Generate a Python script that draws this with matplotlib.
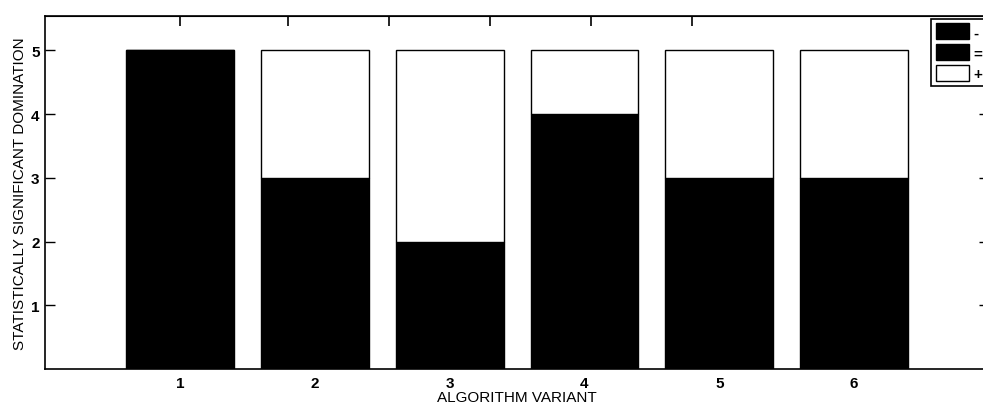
import matplotlib
matplotlib.use("Agg")
import matplotlib.pyplot as plt
import numpy as np

# Pairwise comparison counts for each algorithm variant
variants = [1, 2, 3, 4, 5, 6]
worse = [0, 0, 0, 0, 0, 0]      # "-"
equal = [5, 3, 2, 4, 3, 3]      # "="
better = [0, 2, 3, 1, 2, 2]     # "+"
legend_labels = ["-", "=", "+"]

plt.rcParams["font.family"] = ["Liberation Sans", "DejaVu Sans"]

fig = plt.figure(figsize=(9.83, 4.06), dpi=100)
ax = fig.add_axes([0.046, 0.088, 0.96, 0.869])

x = np.array(variants)
width = 0.8
bottom = np.zeros(len(variants))
for vals, color, lab in zip([worse, equal, better],
                            ["black", "black", "white"], legend_labels):
    ax.bar(x, vals, width, bottom=bottom, color=color,
           edgecolor="black", linewidth=1.0, label=lab)
    bottom += np.array(vals)

ax.set_xlim(0, 7)
ax.set_ylim(0, 5.53)
ax.set_xticks(variants)
ax.set_xticklabels([str(v) for v in variants], fontweight="bold", fontsize=11)
ax.set_yticks([1, 2, 3, 4, 5])
ax.set_yticklabels(["1", "2", "3", "4", "5"], fontweight="bold", fontsize=11)
ax.tick_params(axis="both", direction="in", length=7, width=1.0,
               right=True, pad=4)
ax.tick_params(axis="x", length=0, pad=5)

# plain ticks along the top edge
top = ax.secondary_xaxis("top")
top.set_xticks([1.0, 1.8, 2.55, 3.3, 4.05, 4.8])
top.set_xticklabels([])
top.tick_params(direction="in", length=7, width=1.2)

for s in ax.spines.values():
    s.set_linewidth(1.2)

ax.set_xlabel("ALGORITHM VARIANT", fontsize=11, labelpad=0)
ax.set_ylabel("STATISTICALLY SIGNIFICANT DOMINATION", fontsize=11,
              labelpad=3)

leg = ax.legend(loc="upper right", fancybox=False, edgecolor="black",
                framealpha=1, prop={"size": 11, "weight": "bold"},
                handlelength=2.2, handleheight=1.25, handletextpad=0.25,
                borderpad=0.3, labelspacing=0.3, borderaxespad=0.15)
leg.get_frame().set_linewidth(1.2)

fig.savefig("out.png", dpi=100)
